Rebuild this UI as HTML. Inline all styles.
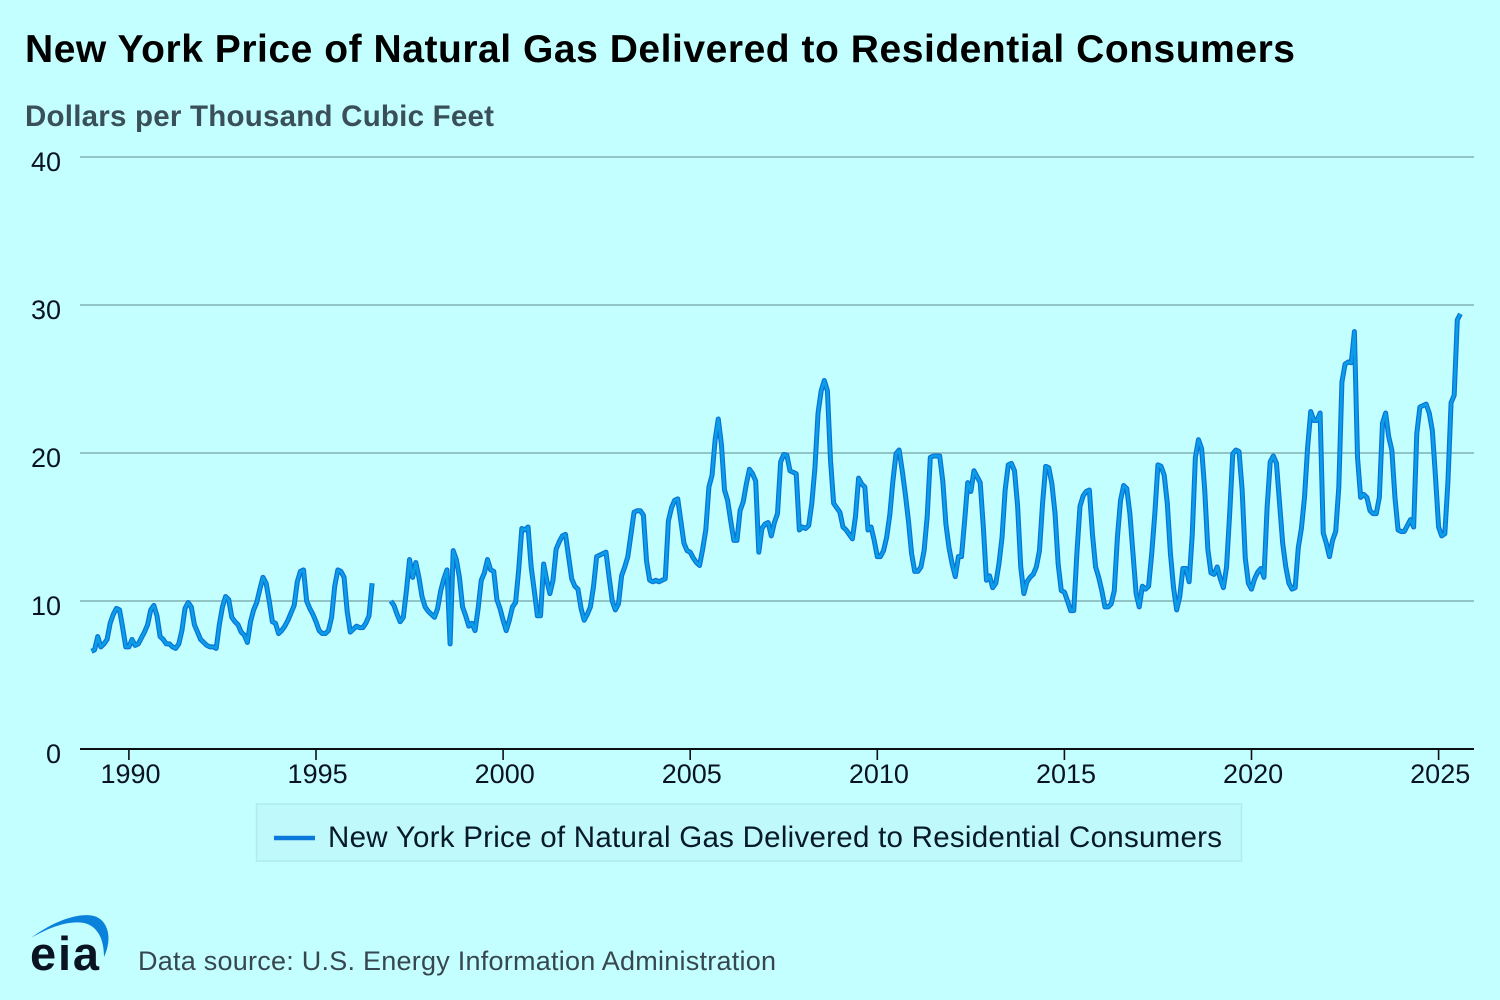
<!DOCTYPE html>
<html lang="en">
<head>
<meta charset="utf-8">
<title>New York Price of Natural Gas Delivered to Residential Consumers</title>
<style>
html,body{margin:0;padding:0;background:#c4ffff;}
svg{display:block;font-family:"Liberation Sans",Arial,sans-serif;}
</style>
</head>
<body>
<svg id="chart" xmlns="http://www.w3.org/2000/svg" width="1500" height="1000" viewBox="0 0 1500 1000">
  <rect x="0" y="0" width="1500" height="1000" fill="#c4ffff"/>
  <text x="25" y="62" font-size="39" font-weight="700" fill="#000" textLength="1270" lengthAdjust="spacing">New York Price of Natural Gas Delivered to Residential Consumers</text>
  <text x="25" y="126" font-size="29.5" font-weight="700" fill="#3a5058" textLength="469" lengthAdjust="spacing">Dollars per Thousand Cubic Feet</text>
  <g id="grid"></g>
  <g id="y-ticks"></g>
  <g id="x-ticks"></g>
  <g id="series"></g>
  <g>
    <rect x="256.5" y="804" width="985" height="57" fill="#c0f9fb" stroke="#aeecee" stroke-width="1.5"/>
    <line x1="274" y1="838" x2="315" y2="838" stroke="#0b78dc" stroke-width="4.5"/>
    <text x="328" y="847" font-size="29.5" fill="#071a2c" textLength="894" lengthAdjust="spacing">New York Price of Natural Gas Delivered to Residential Consumers</text>
  </g>
  <g>
    <path d="M31 938 C52 922 78 912 94 916 C108 920 113 938 104 957 C104 938 97 926 84 923 C68 920 48 928 31 938 Z" fill="#0a82dc"/>
    <text x="30" y="970" font-size="47" font-weight="700" fill="#0a1420" textLength="69" lengthAdjust="spacing">eia</text>
  </g>
  <text x="138" y="970" font-size="27" fill="#37474f" textLength="638" lengthAdjust="spacing">Data source: U.S. Energy Information Administration</text>
</svg>
<script>
const startYear = 1989;
const yTickValues = [0, 10, 20, 30, 40];
const xTickYears = [1990, 1995, 2000, 2005, 2010, 2015, 2020, 2025];
const monthlyPrices = [
  6.6,6.7,7.6,6.9,7.1,7.4,8.5,9.1,9.5,9.4,8.2,6.9,
  6.9,7.4,7.0,7.1,7.5,7.9,8.4,9.4,9.7,9.0,7.6,7.4,
  7.1,7.1,6.9,6.8,7.1,8.0,9.5,9.9,9.6,8.4,7.9,7.4,
  7.2,7.0,6.9,6.9,6.8,8.4,9.6,10.3,10.1,8.9,8.6,8.4,
  7.9,7.7,7.2,8.6,9.4,9.9,10.8,11.6,11.2,10.0,8.6,8.5,
  7.8,8.0,8.3,8.7,9.2,9.7,11.3,12.0,12.1,10.0,9.5,9.1,
  8.6,8.0,7.8,7.8,8.0,8.9,11.0,12.1,12.0,11.6,9.3,7.9,
  8.1,8.3,8.2,8.2,8.5,9.0,11.2,null,null,null,null,null,
  10.0,9.7,9.1,8.6,8.9,10.7,12.8,11.6,12.6,11.6,10.3,9.6,
  9.3,9.1,8.9,9.5,10.7,11.5,12.1,7.1,13.4,12.8,11.6,9.6,
  9.0,8.3,8.5,8.0,9.5,11.4,11.9,12.8,12.1,12.0,10.1,9.5,
  8.7,8.0,8.7,9.6,9.9,12.1,14.9,14.8,15.0,12.3,10.7,9.0,
  9.0,12.5,11.4,10.5,11.4,13.5,14.0,14.4,14.5,13.0,11.5,11.0,
  10.8,9.5,8.7,9.1,9.6,11.0,13.0,13.1,13.2,13.3,11.6,10.0,
  9.4,9.8,11.7,12.3,13.0,14.5,16.0,16.1,16.1,15.8,12.7,11.4,
  11.3,11.4,11.3,11.4,11.5,15.4,16.3,16.8,16.9,15.4,13.9,13.4,
  13.3,12.9,12.6,12.4,13.5,14.8,17.7,18.5,20.9,22.3,20.6,17.5,
  16.8,15.4,14.1,14.1,16.1,16.7,17.9,18.9,18.6,18.1,13.3,14.9,
  15.2,15.3,14.4,15.3,15.9,19.4,19.9,19.85,18.8,18.7,18.6,14.8,
  15.0,14.9,15.1,16.6,19.0,22.7,24.2,24.9,24.2,19.5,16.6,16.3,
  16.0,15.0,14.8,14.5,14.2,15.7,18.3,17.9,17.7,14.8,15.0,14.1,
  13.0,13.0,13.4,14.3,15.8,18.1,19.95,20.2,18.8,17.2,15.4,13.2,
  12.0,12.0,12.3,13.4,15.7,19.7,19.8,19.8,19.8,18.1,15.2,13.6,
  12.5,11.65,13.0,13.0,15.4,18.0,17.4,18.8,18.4,18.0,15.0,11.4,
  11.7,10.9,11.2,12.5,14.3,17.5,19.2,19.3,18.8,16.4,12.3,10.5,
  11.3,11.6,11.8,12.3,13.4,16.6,19.1,19.0,17.9,15.9,12.5,10.7,
  10.6,10.0,9.35,9.35,13.2,16.4,17.1,17.4,17.5,14.5,12.3,11.6,
  10.7,9.6,9.6,9.8,10.7,14.3,16.8,17.8,17.6,15.9,13.2,10.5,
  9.6,11.0,10.8,11.0,13.2,15.9,19.2,19.1,18.5,16.6,13.2,10.9,
  9.4,10.3,12.2,12.2,11.3,14.5,19.7,20.9,20.3,17.5,13.5,11.9,
  11.8,12.3,11.5,10.9,12.3,15.9,19.95,20.2,20.1,17.5,12.9,11.2,
  10.8,11.5,11.95,12.2,11.6,16.3,19.4,19.8,19.3,16.6,13.9,12.3,
  11.2,10.8,10.9,13.6,14.9,17.0,20.4,22.8,22.2,22.2,22.7,14.6,
  13.9,13.0,14.1,14.7,17.7,24.8,26.0,26.15,26.1,28.2,19.7,17.0,
  17.2,17.0,16.1,15.9,15.9,17.0,22.0,22.7,21.1,20.2,17.0,14.8,
  14.7,14.7,15.1,15.5,15.0,21.3,23.1,23.2,23.3,22.7,21.5,18.4,
  15.0,14.4,14.55,18.1,23.4,23.9,29.0,29.4
];

const SVG_NS = 'http://www.w3.org/2000/svg';
function xScale(year) { return 316 + (year - 1995) * 37.42; }
function yScale(value) { return 749 - value * 14.8; }
function make(tag, attrs, parent) {
  const el = document.createElementNS(SVG_NS, tag);
  for (const k in attrs) el.setAttribute(k, attrs[k]);
  parent.appendChild(el);
  return el;
}
const gridGroup = document.getElementById('grid');
const yGroup = document.getElementById('y-ticks');
const xGroup = document.getElementById('x-ticks');
const seriesGroup = document.getElementById('series');

yTickValues.forEach(function (v) {
  if (v !== 0) {
    const g = make('line', {x1: 80, x2: 1474, y1: yScale(v), y2: yScale(v), stroke: '#7fb0b2', 'stroke-width': 1.6}, gridGroup);
    
    
  }
  const t = make('text', {x: 61, y: yScale(v) + 14, 'text-anchor': 'end', 'font-size': 27, fill: '#0a1420'}, yGroup);
  
  
  t.textContent = String(v);
});
const labelOffsets = [1.6];

const axisLine = make('line', {x1: 80, x2: 1474, y1: yScale(0), y2: yScale(0), stroke: '#0a1014', 'stroke-width': 2}, xGroup);



xTickYears.forEach(function (year) {
  const x = xScale(year);
  const tick = make('line', {x1: x, x2: x, y1: yScale(0), y2: yScale(0) + 11, stroke: '#0a1014', 'stroke-width': 1.6}, xGroup);
  
  
  const t = make('text', {x: x + labelOffsets[0], y: 783, 'text-anchor': 'middle', 'font-size': 27, fill: '#0a1420'}, xGroup);
  
  
  t.textContent = String(year);
});

function buildPath() {
  let d = '';
  let pen = false;
  monthlyPrices.forEach(function (v, i) {
    if (v === null) { pen = false; return; }
    const year = startYear + i / 12;
    d += (pen ? 'L' : 'M') + xScale(year).toFixed(2) + ' ' + yScale(v).toFixed(2);
    pen = true;
  });
  return d;
}
const seriesPath = buildPath();
const outerLine = make('path', {d: seriesPath, fill: 'none', stroke: '#0b72d8', 'stroke-width': 5, 'stroke-linejoin': 'round'}, seriesGroup);


const innerLine = make('path', {d: seriesPath, fill: 'none', stroke: '#0a9ee6', 'stroke-width': 2.6, 'stroke-linejoin': 'round'}, seriesGroup);


</script>
</body>
</html>
